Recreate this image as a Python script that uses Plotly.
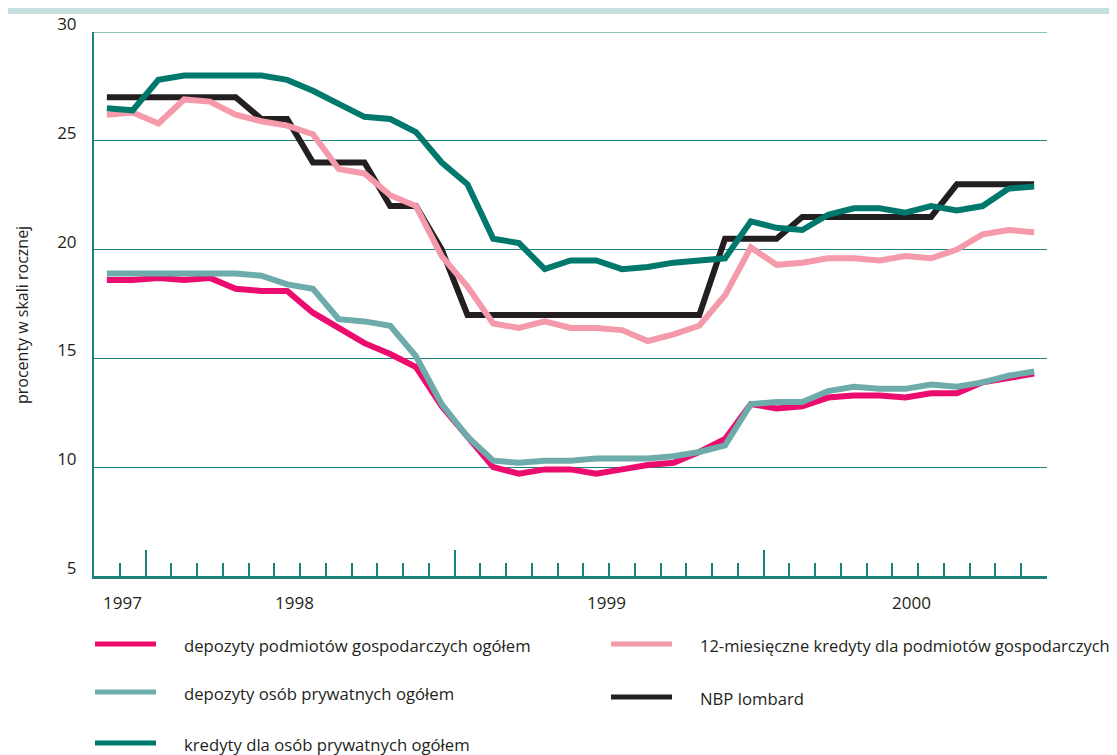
import plotly.graph_objects as go

# miesiace (kolejne obserwacje, 37 miesiecy)
miesiace = list(range(37))

dep_podmiotow = [18.6, 18.6, 18.7, 18.6, 18.7, 18.2, 18.1, 18.1, 17.1, 16.4, 15.7, 15.2, 14.6,
                 12.8, 11.4, 10.0, 9.7, 9.9, 9.9, 9.7, 9.9, 10.1, 10.2, 10.7, 11.3, 12.9,
                 12.7, 12.8, 13.2, 13.3, 13.3, 13.2, 13.4, 13.4, 13.9, 14.1, 14.3]
dep_prywatnych = [18.9, 18.9, 18.9, 18.9, 18.9, 18.9, 18.8, 18.4, 18.2, 16.8, 16.7, 16.5, 15.1,
                  12.9, 11.4, 10.3, 10.2, 10.3, 10.3, 10.4, 10.4, 10.4, 10.5, 10.7, 11.0, 12.9,
                  13.0, 13.0, 13.5, 13.7, 13.6, 13.6, 13.8, 13.7, 13.9, 14.2, 14.4]
kred_prywatnych = [26.5, 26.4, 27.8, 28.0, 28.0, 28.0, 28.0, 27.8, 27.3, 26.7, 26.1, 26.0, 25.4,
                   24.0, 23.0, 20.5, 20.3, 19.1, 19.5, 19.5, 19.1, 19.2, 19.4, 19.5, 19.6, 21.3,
                   21.0, 20.9, 21.6, 21.9, 21.9, 21.7, 22.0, 21.8, 22.0, 22.8, 22.9]
kred_podmiotow_12m = [26.2, 26.3, 25.8, 26.9, 26.8, 26.2, 25.9, 25.7, 25.3, 23.7, 23.5, 22.5, 22.0,
                      19.7, 18.3, 16.6, 16.4, 16.7, 16.4, 16.4, 16.3, 15.8, 16.1, 16.5, 17.9, 20.1,
                      19.3, 19.4, 19.6, 19.6, 19.5, 19.7, 19.6, 20.0, 20.7, 20.9, 20.8]
lombard = [27, 27, 27, 27, 27, 27, 26, 26, 24, 24, 24, 22, 22,
           20, 17, 17, 17, 17, 17, 17, 17, 17, 17, 17, 20.5, 20.5,
           20.5, 21.5, 21.5, 21.5, 21.5, 21.5, 21.5, 23, 23, 23, 23]

lata = ['1997', '1998', '1999', '2000']
lata_poz = [0.6, 7.3, 19.4, 31.25]
lata_granice = [1.5, 13.5, 25.5]

nazwy = {
    'podm': 'depozyty podmiotów gospodarczych ogółem',
    'pryw': 'depozyty osób prywatnych ogółem',
    'kred': 'kredyty dla osób prywatnych ogółem',
    'k12': '12-miesięczne kredyty dla podmiotów gospodarczych',
    'lomb': 'NBP lombard',
}
kolory = {
    'podm': '#ec0c6e',
    'pryw': '#6dacaa',
    'kred': '#00786c',
    'k12': '#f49aaa',
    'lomb': '#231f20',
}
TEAL = '#1d8279'
TXT = '#231f20'
FONT = 'Open Sans, sans-serif'

fig = go.Figure()
for key, y in [('lomb', lombard), ('podm', dep_podmiotow), ('pryw', dep_prywatnych),
               ('k12', kred_podmiotow_12m), ('kred', kred_prywatnych)]:
    fig.add_trace(go.Scatter(x=miesiace, y=y, mode='lines', name=nazwy[key],
                             line=dict(color=kolory[key], width=6), showlegend=False))

# the page puts the figure 8px in from the top-left corner
OFF = 8
W, H = 1117 - OFF, 755 - OFF
L, R, T, B = 94 - OFF, 1047 - OFF, 32 - OFF, 576 - OFF


def px(xp):
    return (xp - OFF - L) / (R - L)


def py(yp):
    return (B - (yp - OFF)) / (B - T)


shapes = [
    dict(type='rect', xref='paper', yref='paper', x0=px(0), x1=px(1117), y0=py(14), y1=py(8),
         fillcolor='#c5dede', line_width=0, layer='below'),
    # top grid line at 30
    dict(type='line', xref='paper', yref='y', x0=0, x1=1, y0=30, y1=30,
         line=dict(color=TEAL, width=1), layer='below'),
]
annotations = [
    dict(x=px(22), y=py(315), xref='paper', yref='paper', text='procenty w skali rocznej',
         textangle=-90, showarrow=False, xanchor='center', yanchor='middle',
         font=dict(family=FONT, size=16, color=TXT)),
]
for lab, xv in zip(lata, lata_poz):
    annotations.append(dict(x=xv, y=py(602), xref='x', yref='paper', text=lab, showarrow=False,
                            font=dict(family=FONT, size=17, color=TXT), xanchor='center', yanchor='middle'))

legenda = [('podm', 95, 182, 644, 16.7), ('pryw', 95, 182, 692, 16.7), ('kred', 95, 182, 743, 16.7),
           ('k12', 611, 698, 644, 16.5), ('lomb', 611, 698, 697, 16.7)]
for key, x0, xt, yy, fs in legenda:
    shapes.append(dict(type='line', xref='paper', yref='paper', x0=px(x0), x1=px(x0 + 61),
                       y0=py(yy), y1=py(yy), line=dict(color=kolory[key], width=5)))
    annotations.append(dict(x=px(xt), y=py(yy + 1), xref='paper', yref='paper', text=nazwy[key],
                            showarrow=False, xanchor='left', yanchor='middle',
                            font=dict(family=FONT, size=fs, color=TXT)))

fig.update_layout(
    width=W, height=H,
    margin=dict(l=L, r=W - R, t=T, b=H - B),
    paper_bgcolor='white', plot_bgcolor='white',
    font=dict(family=FONT, color=TXT),
    shapes=shapes, annotations=annotations,
    xaxis=dict(range=[-0.5, 36.5], showgrid=False, zeroline=False, automargin=False,
               showline=True, linecolor=TEAL, linewidth=2.5,
               tickmode='array', tickvals=lata_granice, ticks='inside', ticklen=26,
               tickwidth=1.5, tickcolor=TEAL, showticklabels=False,
               minor=dict(tickmode='linear', tick0=-0.5, dtick=1, ticks='inside', ticklen=13,
                          tickwidth=1.5, tickcolor=TEAL, showgrid=False)),
    yaxis=dict(range=[5, 30], tickvals=[5, 10, 15, 20, 25, 30], showgrid=True, gridcolor=TEAL,
               gridwidth=1, zeroline=False, showline=True, linecolor=TEAL, linewidth=2,
               automargin=False, ticks='', tickfont=dict(family=FONT, size=17, color=TXT),
               ticklabelshift=-8, ticklabelstandoff=12),
)

fig.write_html('out.html')
